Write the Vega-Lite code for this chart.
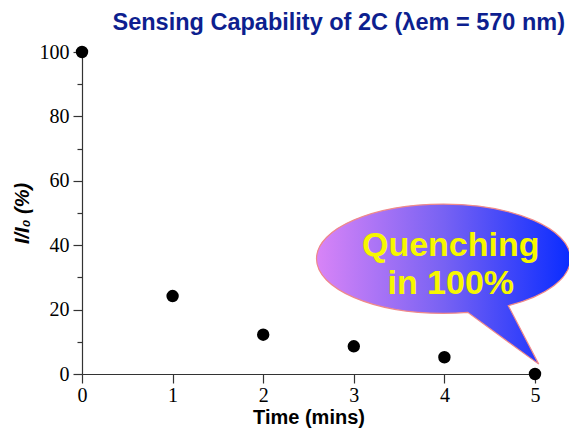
{
  "$schema": "https://vega.github.io/schema/vega-lite/v6.json",
  "width": 453,
  "height": 322,
  "autosize": {"type": "none"},
  "padding": {"left": 82, "top": 52, "right": 34, "bottom": 62},
  "background": "white",
  "title": {
    "text": "Sensing Capability of 2C (λem = 570 nm)",
    "font": "Liberation Sans",
    "fontSize": 23.5,
    "fontWeight": "bold",
    "color": "#0d1f8f",
    "anchor": "end",
    "frame": "group",
    "dx": 30,
    "offset": 8
  },
  "config": {"view": {"stroke": null}},
  "datasets": {
    "points": [
      {"x": 0, "y": 100},
      {"x": 1, "y": 24.2},
      {"x": 2, "y": 12.2},
      {"x": 3, "y": 8.6},
      {"x": 4, "y": 5.2},
      {"x": 5, "y": 0}
    ],
    "bubble": [{"x": 3.99, "y": 35.8}],
    "label": [
      {"x": 4.07, "y": 36.8, "t": "Quenching"},
      {"x": 4.07, "y": 24.8, "t": "in 100%"}
    ]
  },
  "encoding": {
    "x": {
      "field": "x",
      "type": "quantitative",
      "scale": {"domain": [0, 5], "nice": false, "zero": false},
      "axis": {
        "title": "Time (mins)",
        "titleFont": "Liberation Sans",
        "titleFontSize": 20,
        "titleFontWeight": "bold",
        "titleColor": "black",
        "titlePadding": 2,
        "values": [0, 0.5, 1, 1.5, 2, 2.5, 3, 3.5, 4, 4.5, 5],
        "format": "d",
        "labelExpr": "datum.value % 1 === 0 ? datum.label : ''",
        "labelFont": "Liberation Serif",
        "labelFontSize": 20,
        "labelColor": "black",
        "labelPadding": 2,
        "labelFlush": false,
        "labelOverlap": false,
        "grid": false,
        "domainColor": "#333333",
        "tickColor": "#333333",
        "domainWidth": 1.2,
        "tickWidth": 1.2,
        "tickSize": {"condition": {"test": "datum.value % 1 === 0", "value": 9}, "value": 5}
      }
    },
    "y": {
      "field": "y",
      "type": "quantitative",
      "scale": {"domain": [0, 100], "nice": false},
      "axis": {
        "title": "I/I₀ (%)",
        "titleFont": "Liberation Sans",
        "titleFontSize": 20,
        "titleFontWeight": "bold",
        "titleFontStyle": "italic",
        "titleColor": "black",
        "titlePadding": 7,
        "values": [0, 10, 20, 30, 40, 50, 60, 70, 80, 90, 100],
        "format": "d",
        "labelExpr": "datum.value % 20 === 0 ? datum.label : ''",
        "labelFont": "Liberation Serif",
        "labelFontSize": 20,
        "labelColor": "black",
        "labelPadding": 4,
        "labelFlush": false,
        "labelOverlap": false,
        "grid": false,
        "domainColor": "#333333",
        "tickColor": "#333333",
        "domainWidth": 1.2,
        "tickWidth": 1.2,
        "tickSize": {"condition": {"test": "datum.value % 20 === 0", "value": 9}, "value": 5}
      }
    }
  },
  "layer": [
    {
      "data": {"name": "bubble"},
      "mark": {
        "type": "point",
        "shape": "M0.5105,0.3698 L0.75,0.83 L0.1908,0.4221 C0.128,0.4273 0.064,0.43 0,0.43 C-0.5523,0.43 -1,0.2375 -1,0 C-1,-0.2375 -0.5523,-0.43 0,-0.43 C0.5523,-0.43 1,-0.2375 1,0 C1,0.1518 0.814,0.2923 0.5105,0.3698 Z",
        "size": 64516,
        "filled": true,
        "opacity": 1,
        "fillOpacity": 1,
        "fill": {
          "gradient": "linear",
          "x1": 0, "y1": 0, "x2": 1, "y2": 0,
          "stops": [
            {"offset": 0, "color": "#d884f7"},
            {"offset": 0.5, "color": "#7862f3"},
            {"offset": 1, "color": "#0a2cff"}
          ]
        },
        "stroke": "#f08a8a",
        "strokeWidth": 1.2
      }
    },
    {
      "data": {"name": "label"},
      "mark": {
        "type": "text",
        "font": "Liberation Sans",
        "fontSize": 34,
        "fontWeight": "bold",
        "color": "#f7f700",
        "align": "center",
        "baseline": "alphabetic"
      },
      "encoding": {"text": {"field": "t"}}
    },
    {
      "data": {"name": "points"},
      "mark": {"type": "circle", "size": 154, "color": "black", "opacity": 1}
    }
  ]
}
